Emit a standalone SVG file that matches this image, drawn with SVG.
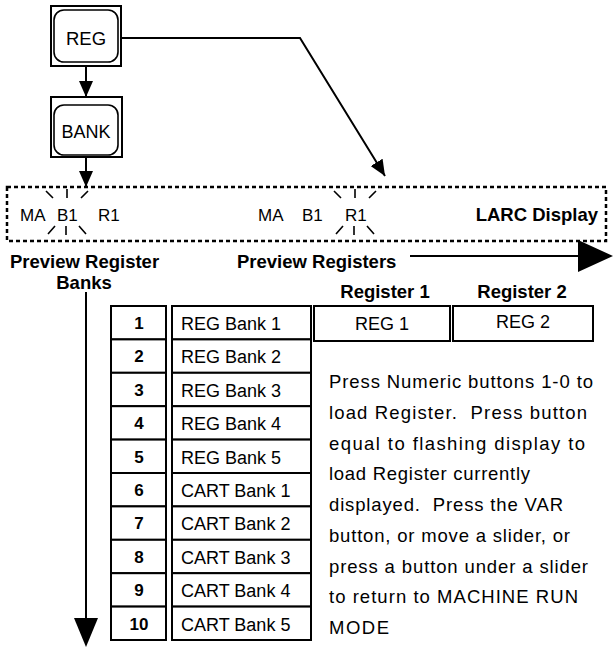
<svg xmlns="http://www.w3.org/2000/svg" width="613" height="648" viewBox="0 0 613 648">
<style>
text{font-family:"Liberation Sans",Arial,sans-serif;fill:#000}
.b{font-weight:bold;font-size:18.5px}
.n{font-size:17px}
.p{font-size:18.5px}
.bank{font-size:18px}
.num{font-weight:bold;font-size:17px;text-anchor:middle}
.cell{fill:#fff;stroke:#000;stroke-width:2}
.ln{fill:none;stroke:#000;stroke-width:2}
.st{stroke:#000;stroke-width:1.6;fill:none}
</style>
<defs>
<marker id="ah2" viewBox="0 0 16 14" refX="16" refY="7" markerWidth="16" markerHeight="14" markerUnits="userSpaceOnUse" orient="auto"><path d="M0,0 L16,7 L0,14 z" fill="#000"/></marker>
<g id="star" class="st">
<path d="M-21,-21 L-14,-14 M0,-23 L0,-14 M14,-14 L21,-21 M-19,22 L-12,14 M-1,14 L-1,23 M12,14 L19,22"/>
</g>
</defs>

<g id="reg">
<rect x="51" y="6" width="70" height="60" fill="#fff" stroke="#000" stroke-width="2"/>
<rect x="54" y="10" width="64" height="52" rx="10" fill="#fff" stroke="#000" stroke-width="1.6"/>
<text x="86" y="45" font-size="18.5" text-anchor="middle">REG</text>
</g>
<g id="bank">
<rect x="51" y="97" width="71" height="60" fill="#fff" stroke="#000" stroke-width="2"/>
<rect x="54" y="105" width="64" height="50" rx="10" fill="#fff" stroke="#000" stroke-width="1.6"/>
<text x="86" y="138" font-size="18" text-anchor="middle">BANK</text>
</g>

<g id="larc-display">
<rect x="7" y="187" width="599" height="54" fill="none" stroke="#000" stroke-width="2.5" stroke-dasharray="4,3"/>
<text x="20" y="221" class="n">MA</text>
<text x="57" y="221" class="n">B1</text>
<text x="98" y="221" class="n">R1</text>
<use href="#star" x="67" y="212"/>
<text x="258" y="221" class="n">MA</text>
<text x="302" y="221" class="n">B1</text>
<text x="345" y="221" class="n">R1</text>
<use href="#star" x="355" y="212"/>
<text x="598" y="221" class="b" text-anchor="end">LARC Display</text>
</g>

<g id="labels">
<text x="10" y="268" class="b">Preview Register</text>
<text x="84" y="289" class="b" text-anchor="middle">Banks</text>
<text x="237" y="268" class="b">Preview Registers</text>
<text x="385" y="298" class="b" text-anchor="middle">Register 1</text>
<text x="522" y="298" class="b" text-anchor="middle">Register 2</text>
</g>

<g id="connectors">
<line x1="86" y1="66" x2="86" y2="97" class="ln" marker-end="url(#ah2)"/>
<line x1="86" y1="157" x2="86" y2="187" class="ln" marker-end="url(#ah2)"/>
<polyline points="121,38 300,38 385,176" class="ln" marker-end="url(#ah2)"/>
<line x1="410" y1="256" x2="580" y2="256" class="ln"/>
<path d="M578,240 L613,256 L578,272 z" fill="#000"/>
<line x1="86" y1="292" x2="86" y2="619" class="ln"/>
<path d="M74,618 L98,618 L86,647 z" fill="#000"/>
</g>

<g id="banks-table">
<rect x="111" y="306" width="55" height="33.4" class="cell"/><text x="139" y="329" class="num">1</text>
<rect x="111" y="339.4" width="55" height="33.4" class="cell"/><text x="139" y="362.4" class="num">2</text>
<rect x="111" y="372.8" width="55" height="33.4" class="cell"/><text x="139" y="395.8" class="num">3</text>
<rect x="111" y="406.2" width="55" height="33.4" class="cell"/><text x="139" y="429.2" class="num">4</text>
<rect x="111" y="439.6" width="55" height="33.4" class="cell"/><text x="139" y="462.6" class="num">5</text>
<rect x="111" y="473" width="55" height="33.4" class="cell"/><text x="139" y="496" class="num">6</text>
<rect x="111" y="506.4" width="55" height="33.4" class="cell"/><text x="139" y="529.4" class="num">7</text>
<rect x="111" y="539.8" width="55" height="33.4" class="cell"/><text x="139" y="562.8" class="num">8</text>
<rect x="111" y="573.2" width="55" height="33.4" class="cell"/><text x="139" y="596.2" class="num">9</text>
<rect x="111" y="606.6" width="55" height="33.4" class="cell"/><text x="139" y="629.6" class="num">10</text>

<rect x="172" y="306" width="139" height="33.4" class="cell"/><text x="181" y="330" class="bank">REG Bank 1</text>
<rect x="172" y="339.4" width="139" height="33.4" class="cell"/><text x="181" y="363.4" class="bank">REG Bank 2</text>
<rect x="172" y="372.8" width="139" height="33.4" class="cell"/><text x="181" y="396.8" class="bank">REG Bank 3</text>
<rect x="172" y="406.2" width="139" height="33.4" class="cell"/><text x="181" y="430.2" class="bank">REG Bank 4</text>
<rect x="172" y="439.6" width="139" height="33.4" class="cell"/><text x="181" y="463.6" class="bank">REG Bank 5</text>
<rect x="172" y="473" width="139" height="33.4" class="cell"/><text x="181" y="497" class="bank">CART Bank 1</text>
<rect x="172" y="506.4" width="139" height="33.4" class="cell"/><text x="181" y="530.4" class="bank">CART Bank 2</text>
<rect x="172" y="539.8" width="139" height="33.4" class="cell"/><text x="181" y="563.8" class="bank">CART Bank 3</text>
<rect x="172" y="573.2" width="139" height="33.4" class="cell"/><text x="181" y="597.2" class="bank">CART Bank 4</text>
<rect x="172" y="606.6" width="139" height="33.4" class="cell"/><text x="181" y="630.6" class="bank">CART Bank 5</text>
</g>

<g id="registers">
<rect x="314" y="306" width="136" height="35" class="cell"/><text x="382" y="330" class="bank" text-anchor="middle">REG 1</text>
<rect x="453" y="306" width="140" height="35" class="cell"/><text x="523" y="328" class="bank" text-anchor="middle">REG 2</text>
</g>

<g id="instructions" class="p">
<text x="329" y="388" textLength="264" lengthAdjust="spacing">Press Numeric buttons 1-0 to</text>
<text x="329" y="418.75" textLength="258" lengthAdjust="spacing">load Register.&#160; Press button</text>
<text x="329" y="449.5" textLength="256" lengthAdjust="spacing">equal to flashing display to</text>
<text x="329" y="480.25" textLength="201" lengthAdjust="spacing">load Register currently</text>
<text x="329" y="511" textLength="234" lengthAdjust="spacing">displayed.&#160; Press the VAR</text>
<text x="329" y="541.75" textLength="241" lengthAdjust="spacing">button, or move a slider, or</text>
<text x="329" y="572.5" textLength="259" lengthAdjust="spacing">press a button under a slider</text>
<text x="329" y="603.25" textLength="249" lengthAdjust="spacing">to return to MACHINE RUN</text>
<text x="329" y="634" textLength="60" lengthAdjust="spacing">MODE</text>
</g>
</svg>
